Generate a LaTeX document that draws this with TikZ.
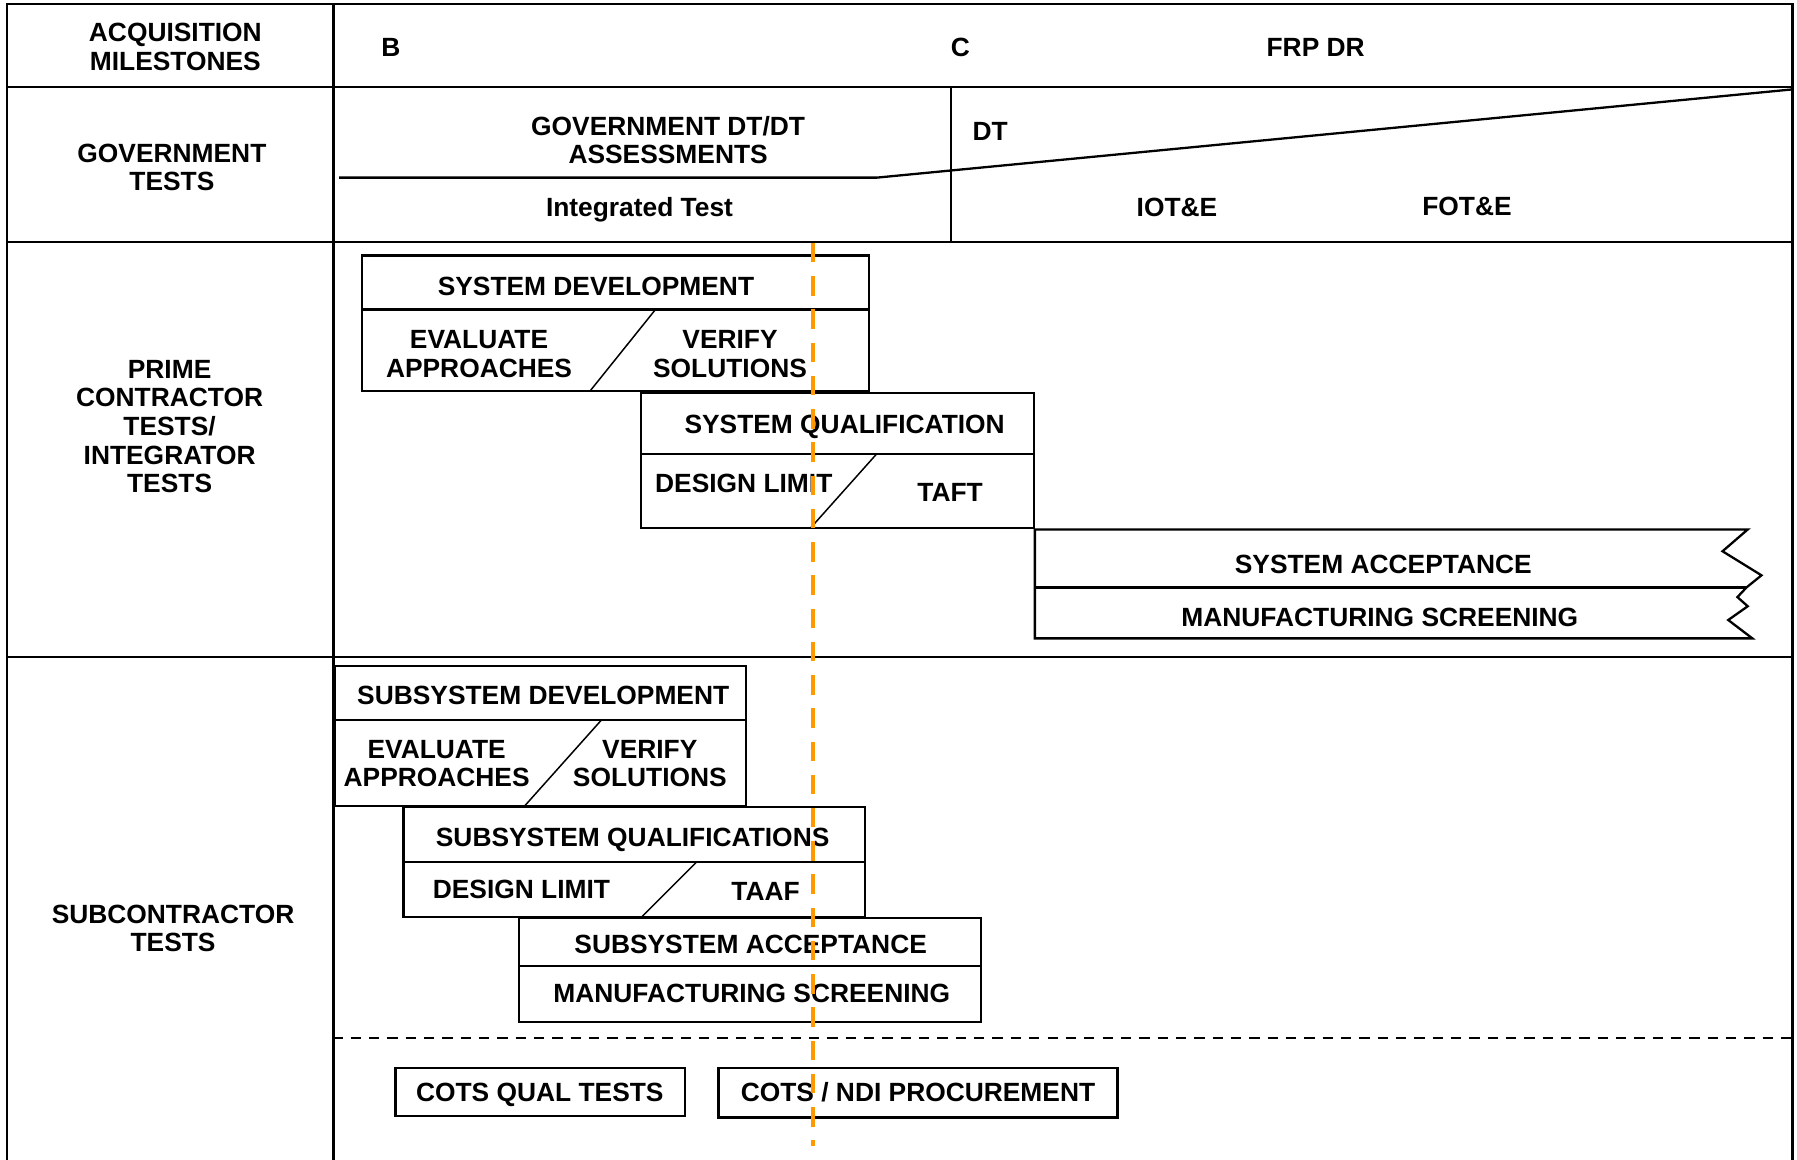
\documentclass[tikz,border=0pt]{standalone}
\usepackage{fontspec}
\setmainfont{Liberation Sans}
\definecolor{orng}{RGB}{255,153,0}
\begin{document}
\begin{tikzpicture}[x=1pt,y=-1pt,line join=miter,
  frame/.style={line width=2pt,black},
  boxline/.style={line width=2pt,black},
  slash/.style={line width=1.3pt,black},
  lbl/.style={font=\bfseries\fontsize{23}{25}\selectfont,inner sep=0pt,align=center,text depth=0pt},
  milestone/.style={line width=3.5pt,orng,dash pattern=on 17pt off 12pt},
  divider/.style={line width=1.8pt,black,dash pattern=on 9pt off 7pt}]
\useasboundingbox (0,0) rectangle (1568,1012);
% frame
\draw[frame] (6,1013) -- (6,3.5) -- (1564,3.5) -- (1564,1013);
\draw[frame] (291,3.5) -- (291,1013);
\draw[frame] (6,76) -- (1564,76);
\draw[frame] (6,211) -- (1564,211);
\draw[frame] (6,573) -- (1564,573);
% government tests row
\draw[frame] (830,76) -- (830,211);
\draw[frame] (296,155) -- (765,155) -- (1564,78);
% row headers
\node[lbl] (hAcq) at (153,41) {ACQUISITION\\MILESTONES};
\node[lbl] (hGov) at (150,146) {GOVERNMENT\\TESTS};
\node[lbl] (hPrime) at (148,372) {PRIME\\CONTRACTOR\\TESTS/\\INTEGRATOR\\TESTS};
\node[lbl] (hSub) at (151,810) {SUBCONTRACTOR\\TESTS};
% milestones
\node[lbl] (mB) at (341,41) {B};
\node[lbl] (mC) at (838,41) {C};
\node[lbl] (mFRP) at (1148,41) {FRP DR};
% government
\node[lbl] (gAss) at (583,122) {GOVERNMENT DT/DT\\ASSESSMENTS};
\node[lbl] (gDT) at (864,115) {DT};
\node[lbl] (gInt) at (558,181) {Integrated Test};
\node[lbl] (gIOT) at (1027,181) {IOT\&E};
\node[lbl] (gFOT) at (1280,180) {FOT\&E};
% system development
\draw[boxline] (316,223) rectangle (758,341);
\draw[boxline] (316,270) -- (758,270);
\draw[slash] (515,341) -- (572,270);
\node[lbl] (sDev) at (520,250) {SYSTEM DEVELOPMENT};
\node[lbl] (sEval) at (418,309) {EVALUATE\\APPROACHES};
\node[lbl] (sVer) at (637,309) {VERIFY\\SOLUTIONS};
% system qualification
\draw[boxline] (559,343) rectangle (902,461);
\draw[boxline] (559,396) -- (902,396);
\draw[slash] (707,461) -- (765,396);
\node[lbl] (sQual) at (737,370) {SYSTEM QUALIFICATION};
\node[lbl] (sDL) at (649,422) {DESIGN LIMIT};
\node[lbl] (sTAFT) at (829,430) {TAFT};
% system acceptance
\draw[boxline] (1525,462) -- (903,462) -- (903,557) -- (1529,557) -- (1508,541) -- (1525,529)
  -- (1516,521) -- (1524,512.5) -- (1537,502) -- (1503,481) -- cycle;
\draw[boxline] (903,512.5) -- (1524,512.5);
\node[lbl] (sAcc) at (1207,492) {SYSTEM ACCEPTANCE};
\node[lbl] (sMfg) at (1204,539) {MANUFACTURING SCREENING};
% subsystem development
\draw[boxline] (292,581) rectangle (651,703);
\draw[boxline] (292,628) -- (651,628);
\draw[slash] (458,703) -- (525,628);
\node[lbl] (uDev) at (474,607) {SUBSYSTEM DEVELOPMENT};
\node[lbl] (uEval) at (381,666) {EVALUATE\\APPROACHES};
\node[lbl] (uVer) at (567,666) {VERIFY\\SOLUTIONS};
% subsystem qualifications
\draw[boxline] (352,704) rectangle (754.5,800);
\draw[boxline] (352,752) -- (754.5,752);
\draw[slash] (560,800) -- (608,752);
\node[lbl] (uQual) at (552,731) {SUBSYSTEM QUALIFICATIONS};
\node[lbl] (uDL) at (455,776) {DESIGN LIMIT};
\node[lbl] (uTAAF) at (668,778) {TAAF};
% subsystem acceptance
\draw[boxline] (453,801) rectangle (856,891.5);
\draw[boxline] (453,843) -- (856,843);
\node[lbl] (uAcc) at (655,824) {SUBSYSTEM ACCEPTANCE};
\node[lbl] (uMfg) at (656,867) {MANUFACTURING SCREENING};
% COTS
\draw[divider] (290,906) -- (1564,906);
\draw[boxline] (345,932) rectangle (598,974);
\node[lbl] (cQual) at (471,953) {COTS QUAL TESTS};
\draw[boxline] (627,932) rectangle (975,975);
\node[lbl] (cNDI) at (801,953) {COTS / NDI PROCUREMENT};
% milestone C marker
\draw[milestone] (709,212) -- (709,1000);
\end{tikzpicture}
\end{document}
